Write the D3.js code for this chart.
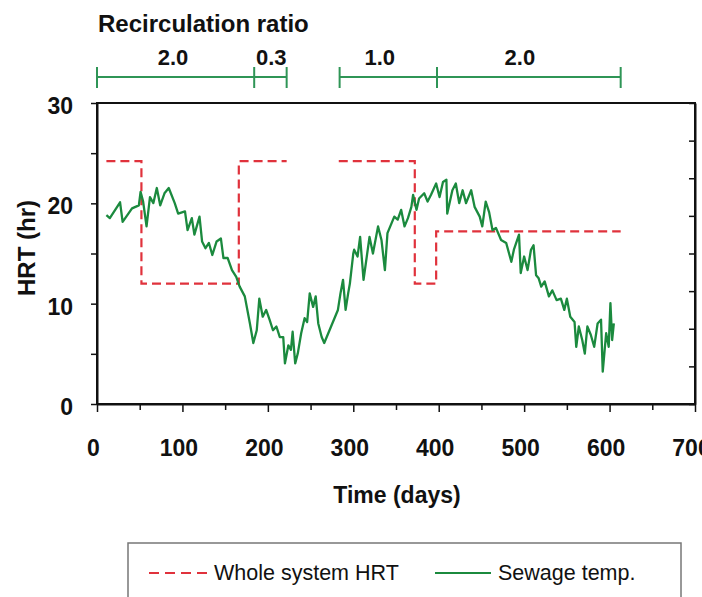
<!DOCTYPE html>
<html>
<head>
<meta charset="utf-8">
<script src="https://cdn.jsdelivr.net/npm/d3@7"></script>
<style>
  html, body { margin: 0; padding: 0; background: #fff; }
  svg { display: block; }
  text { font-family: "Liberation Sans", Arial, sans-serif; fill: #111; }
</style>
</head>
<body>
<svg id="chart" width="702" height="597"></svg>
<script>
// ---------- data ----------
const xTicks = [0, 100, 200, 300, 400, 500, 600, 700];
const yTicks = [0, 10, 20, 30];

const ratioStarts = [0, 184, 284, 398];
const ratioEnds   = [184, 222, 398, 613];
const ratioLabels = ["2.0", "0.3", "1.0", "2.0"];
const ratioLabelDays = [89, 204, 331, 495];

// Whole system HRT (hr): two operating periods
const hrtDays1 = [11, 52, 52, 166, 166, 222];
const hrtVals1 = [24.2, 24.2, 12.0, 12.0, 24.2, 24.2];
const hrtDays2 = [283, 372, 372, 397, 397, 613];
const hrtVals2 = [24.2, 24.2, 12.0, 12.0, 17.2, 17.2];

// Sewage temperature (°C, right axis 0-40)
const tempDays = [11,15,27,30,41,49,51,54,58,62,66,70,74,79,84,91,95,103,106,111,114,120,123,127,131,135,140,145,148,153,158,163,167,173,179,183,187,190,194,198,202,206,210,214,218,220,224,227,229,232,235,239,243,246,249,253,256,259,263,266,274,282,285,288,291,294,296,300,301,305,308,312,319,323,329,333,337,340,344,348,352,356,360,364,368,370,374,377,383,387,391,397,401,405,409,410,416,420,424,428,432,438,442,448,451,455,459,463,467,473,479,485,488,494,496,500,504,508,511,514,517,520,524,529,533,538,543,547,550,554,559,561,564,568,571,574,578,582,586,590,592,596,599,601,603,605];
const tempVals = [25.1,24.7,26.8,24.2,26.0,26.4,28.2,26.9,23.6,27.5,26.7,28.7,26.4,28.0,28.7,26.7,25.3,25.6,23.1,24.7,22.5,24.9,21.6,20.7,21.4,19.8,21.6,22.0,19.4,19.4,17.8,16.9,15.6,14.3,10.7,8.1,9.8,14.0,11.6,12.5,11.2,9.8,10.3,8.9,8.9,5.4,7.8,7.2,9.6,5.4,6.7,9.4,11.4,10.9,14.7,12.9,14.3,10.7,8.9,8.1,10.3,12.5,14.7,16.5,12.5,14.7,16.0,20.0,20.5,19.6,22.2,16.5,22.2,20.0,23.6,21.8,17.8,22.7,23.8,24.9,24.5,25.8,23.6,24.7,26.2,27.8,25.8,27.3,28.0,26.9,27.8,29.3,27.5,29.5,29.8,25.3,28.4,29.3,26.7,28.4,26.7,28.4,26.2,24.9,23.6,26.9,25.5,23.1,23.4,21.8,21.4,18.9,20.5,22.5,17.4,19.6,17.8,20.5,21.1,17.1,16.7,15.6,16.3,14.3,15.1,13.8,14.0,12.5,14.0,11.6,10.9,7.6,10.3,8.5,6.7,10.3,9.2,7.6,10.7,11.2,4.3,9.4,7.6,13.4,8.5,10.7];

const legendLabels = ["Whole system HRT", "Sewage temp."];

// ---------- layout ----------
const plot = { left: 97, right: 695, top: 103, bottom: 404 };
const RED = "#e0323c", GREEN = "#1b8a3e", BAR_GREEN = "#2f9556";

const svg = d3.select("#chart");

const x = d3.scaleLinear().domain([0, 700]).range([plot.left, plot.right]);
const y = d3.scaleLinear().domain([0, 30]).range([plot.bottom, plot.top]);
const yT = d3.scaleLinear().domain([0, 40]).range([plot.bottom, plot.top]);

// frame
svg.append("rect")
  .attr("x", plot.left).attr("y", plot.top)
  .attr("width", plot.right - plot.left).attr("height", plot.bottom - plot.top)
  .attr("fill", "none").attr("stroke", "#111").attr("stroke-width", 2);

// bottom axis
const xAxis = svg.append("g").attr("transform", `translate(0,${plot.bottom})`)
  .call(d3.axisBottom(x).tickValues(d3.range(0, 701, 50)).tickSize(7).tickSizeOuter(0)
    .tickFormat(d => xTicks.includes(d) ? d : ""));
xAxis.select(".domain").attr("stroke", "#111").attr("stroke-width", 2);
xAxis.selectAll(".tick line").attr("stroke", "#111").attr("stroke-width", 1.5)
  .attr("y2", d => xTicks.includes(d) ? 8 : 6);
xAxis.selectAll(".tick text").attr("dy", 0).attr("y", 52).attr("dx", -4)
  .style("font-size", "23px").style("font-weight", "bold");

// left axis
const yAxis = svg.append("g").attr("transform", `translate(${plot.left},0)`)
  .call(d3.axisLeft(y).tickValues(d3.range(0, 31, 5)).tickSize(6).tickSizeOuter(0)
    .tickFormat(d => yTicks.includes(d) ? d : ""));
yAxis.select(".domain").attr("stroke", "#111").attr("stroke-width", 2);
yAxis.selectAll(".tick line").attr("stroke", "#111").attr("stroke-width", 1.5);
yAxis.selectAll(".tick text").attr("x", -24).attr("dy", "0.45em")
  .style("font-size", "23px").style("font-weight", "bold");

// right axis (temperature) — ticks only, labels fall outside the frame
const rAxis = svg.append("g").attr("transform", `translate(${plot.right},0)`)
  .call(d3.axisLeft(yT).tickValues(d3.range(0, 41, 5)).tickSize(6).tickSizeOuter(0).tickFormat(""));
rAxis.select(".domain").attr("stroke", "#111").attr("stroke-width", 2);
rAxis.selectAll(".tick line").attr("stroke", "#111").attr("stroke-width", 1.5);

// axis titles
svg.append("text").attr("x", 397).attr("y", 503)
  .attr("text-anchor", "middle").style("font-size", "23px").style("font-weight", "bold")
  .text("Time (days)");
svg.append("text").attr("transform", `translate(35,248) rotate(-90)`)
  .attr("text-anchor", "middle").style("font-size", "24px").style("font-weight", "bold")
  .text("HRT (hr)");

// recirculation ratio bar
svg.append("text").attr("x", plot.left + 1).attr("y", 32)
  .style("font-size", "24px").style("font-weight", "bold").text("Recirculation ratio");
const barY = 77;
const segs = ratioStarts.map((s, i) => ({ s, e: ratioEnds[i], label: ratioLabels[i], at: ratioLabelDays[i] }));
const barG = svg.append("g");
barG.selectAll("line.seg").data(segs).join("line").attr("class", "seg")
  .attr("x1", d => x(d.s)).attr("x2", d => x(d.e))
  .attr("y1", barY).attr("y2", barY)
  .attr("stroke", BAR_GREEN).attr("stroke-width", 2);
const caps = Array.from(new Set(segs.flatMap(d => [d.s, d.e])));
barG.selectAll("line.cap").data(caps).join("line").attr("class", "cap")
  .attr("x1", d => x(d)).attr("x2", d => x(d))
  .attr("y1", barY - 10).attr("y2", barY + 11)
  .attr("stroke", BAR_GREEN).attr("stroke-width", 2);
barG.selectAll("text").data(segs).join("text")
  .attr("x", d => x(d.at)).attr("y", 65)
  .attr("text-anchor", "middle").style("font-size", "22px").style("font-weight", "bold")
  .text(d => d.label);

// HRT dashed lines
const hrtLine = d3.line().x(d => x(d[0])).y(d => y(d[1]));
[[hrtDays1, hrtVals1], [hrtDays2, hrtVals2]].forEach(([ds, vs]) => {
  svg.append("path").datum(ds.map((d, i) => [d, vs[i]]))
    .attr("d", hrtLine).attr("fill", "none")
    .attr("stroke", RED).attr("stroke-width", 2.2).attr("stroke-dasharray", "9,5");
});

// temperature line
const tLine = d3.line().x(d => x(d[0])).y(d => yT(d[1]));
svg.append("path").datum(tempDays.map((d, i) => [d, tempVals[i]]))
  .attr("d", tLine).attr("fill", "none")
  .attr("stroke", GREEN).attr("stroke-width", 2.3).attr("stroke-linejoin", "round");

// legend
const lg = svg.append("g");
lg.append("rect").attr("x", 128).attr("y", 543).attr("width", 553).attr("height", 70)
  .attr("fill", "#fff").attr("stroke", "#777").attr("stroke-width", 1.5);
lg.append("line").attr("x1", 149).attr("x2", 208).attr("y1", 573).attr("y2", 573)
  .attr("stroke", RED).attr("stroke-width", 2).attr("stroke-dasharray", "10,6");
lg.append("text").attr("x", 214).attr("y", 580).style("font-size", "21.5px").text(legendLabels[0]);
lg.append("line").attr("x1", 435).attr("x2", 491).attr("y1", 573).attr("y2", 573)
  .attr("stroke", GREEN).attr("stroke-width", 2);
lg.append("text").attr("x", 498).attr("y", 580).style("font-size", "21.5px").text(legendLabels[1]);
</script>
</body>
</html>
